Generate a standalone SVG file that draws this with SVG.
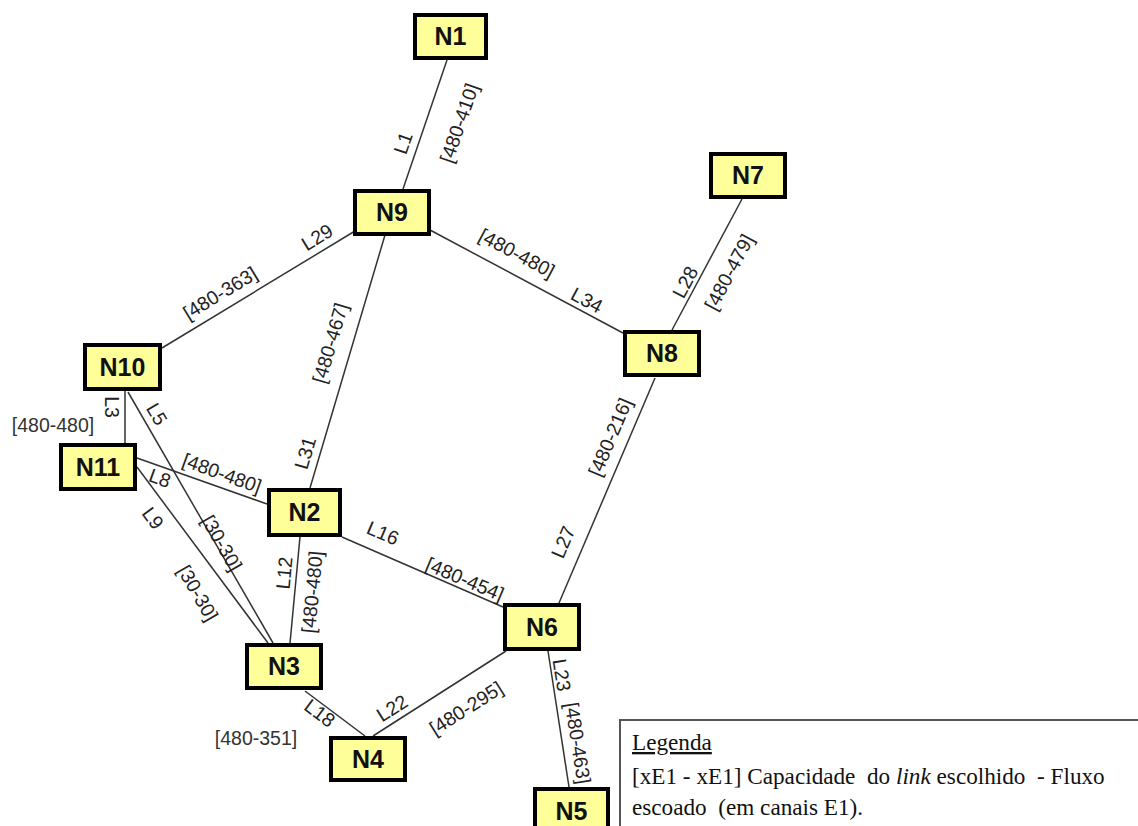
<svg xmlns="http://www.w3.org/2000/svg" width="1138" height="826" viewBox="0 0 1138 826">
<style>
.e{stroke:#333;stroke-width:1.5;fill:none}
.n rect{fill:#FFFF99;stroke:#000;stroke-width:4}
.n text{font-family:"Liberation Sans",Arial,sans-serif;font-weight:bold;font-size:25px;fill:#111;text-anchor:middle}
.l{font-family:"Liberation Sans",Arial,sans-serif;font-size:19.5px;fill:#222;text-anchor:middle;dominant-baseline:central}
.h{fill:#333}
.lg{font-family:"Liberation Serif","Times New Roman",serif;font-size:23.2px;fill:#111;white-space:pre}
</style>
<rect width="1138" height="826" fill="#fff"/>
<g id="connectors">
<line class="e" x1="447" y1="60" x2="403" y2="189"/>
<line class="e" x1="355" y1="231" x2="162" y2="348"/>
<line class="e" x1="430" y1="230" x2="623" y2="333"/>
<line class="e" x1="742" y1="199" x2="672" y2="330"/>
<line class="e" x1="385" y1="235" x2="310" y2="488"/>
<line class="e" x1="125" y1="391" x2="125" y2="443"/>
<line class="e" x1="128" y1="392" x2="273" y2="643"/>
<line class="e" x1="137" y1="458" x2="267" y2="504"/>
<line class="e" x1="137" y1="467" x2="268" y2="643"/>
<line class="e" x1="300" y1="537" x2="290" y2="643"/>
<line class="e" x1="342" y1="537" x2="503" y2="607"/>
<line class="e" x1="655" y1="378" x2="559" y2="603"/>
<line class="e" x1="373" y1="736" x2="506" y2="651"/>
<line class="e" x1="305" y1="691" x2="365" y2="736"/>
<line class="e" x1="548" y1="651" x2="569" y2="787"/>
</g>
<g id="link-labels">
<text class="l" transform="translate(403,143) rotate(-71)">L1</text>
<text class="l" transform="translate(459,123) rotate(-71)">[480-410]</text>
<text class="l" transform="translate(317,237) rotate(-31.4)">L29</text>
<text class="l" transform="translate(220,293) rotate(-31.4)">[480-363]</text>
<text class="l" transform="translate(517,253) rotate(28)">[480-480]</text>
<text class="l" transform="translate(587,300) rotate(28)">L34</text>
<text class="l" transform="translate(685,282) rotate(-62)">L28</text>
<text class="l" transform="translate(729,272) rotate(-62)">[480-479]</text>
<text class="l" transform="translate(330,343) rotate(-73.5)">[480-467]</text>
<text class="l" transform="translate(305,453) rotate(-73.5)">L31</text>
<text class="l" transform="translate(112,407) rotate(90)">L3</text>
<text class="l h" x="53" y="425">[480-480]</text>
<text class="l" transform="translate(157,414) rotate(60)">L5</text>
<text class="l" transform="translate(222,543) rotate(60)">[30-30]</text>
<text class="l" transform="translate(160,478) rotate(20)">L8</text>
<text class="l" transform="translate(222,473) rotate(20)">[480-480]</text>
<text class="l" transform="translate(153,518) rotate(53)">L9</text>
<text class="l" transform="translate(198,593) rotate(60)">[30-30]</text>
<text class="l" transform="translate(284,573) rotate(-84.6)">L12</text>
<text class="l" transform="translate(312,592) rotate(-84.6)">[480-480]</text>
<text class="l" transform="translate(383,533) rotate(23)">L16</text>
<text class="l" transform="translate(465,579) rotate(23)">[480-454]</text>
<text class="l" transform="translate(610,437) rotate(-67)">[480-216]</text>
<text class="l" transform="translate(563,542) rotate(-67)">L27</text>
<text class="l" transform="translate(392,708) rotate(-32.3)">L22</text>
<text class="l" transform="translate(466,708) rotate(-32.3)">[480-295]</text>
<text class="l" transform="translate(320,713) rotate(37)">L18</text>
<text class="l h" x="256" y="738">[480-351]</text>
<text class="l" transform="translate(562,675) rotate(81)">L23</text>
<text class="l" transform="translate(578,743) rotate(81)">[480-463]</text>
</g>
<g id="N1" class="n"><rect x="415" y="15" width="71" height="43"/><text x="450.5" y="45">N1</text></g>
<g id="N9" class="n"><rect x="355" y="191" width="74" height="43"/><text x="392" y="221">N9</text></g>
<g id="N7" class="n"><rect x="711" y="154" width="74" height="43"/><text x="748" y="184">N7</text></g>
<g id="N8" class="n"><rect x="625" y="332" width="74" height="43"/><text x="662" y="362">N8</text></g>
<g id="N10" class="n"><rect x="85" y="345" width="75" height="44"/><text x="122.5" y="375.5">N10</text></g>
<g id="N11" class="n"><rect x="61" y="445" width="74" height="44"/><text x="98" y="475.5">N11</text></g>
<g id="N2" class="n"><rect x="269" y="490" width="71" height="45"/><text x="304.5" y="521">N2</text></g>
<g id="N3" class="n"><rect x="247" y="645" width="74" height="43"/><text x="284" y="675">N3</text></g>
<g id="N4" class="n"><rect x="331" y="738" width="74" height="42"/><text x="368" y="767.5">N4</text></g>
<g id="N6" class="n"><rect x="505" y="605" width="74" height="44"/><text x="542" y="635.5">N6</text></g>
<g id="N5" class="n"><rect x="535" y="789" width="73" height="44"/><text x="571.5" y="819.5">N5</text></g>
<g id="legend">
<rect x="620" y="720" width="530" height="120" fill="#fff" stroke="#555" stroke-width="2"/>
<text class="lg" x="632" y="750" text-decoration="underline">Legenda</text>
<text class="lg" x="632" y="784">[xE1 - xE1] Capacidade  do <tspan font-style="italic">link</tspan> escolhido  - Fluxo</text>
<text class="lg" x="632" y="815">escoado  (em canais E1).</text>
</g>
</svg>
